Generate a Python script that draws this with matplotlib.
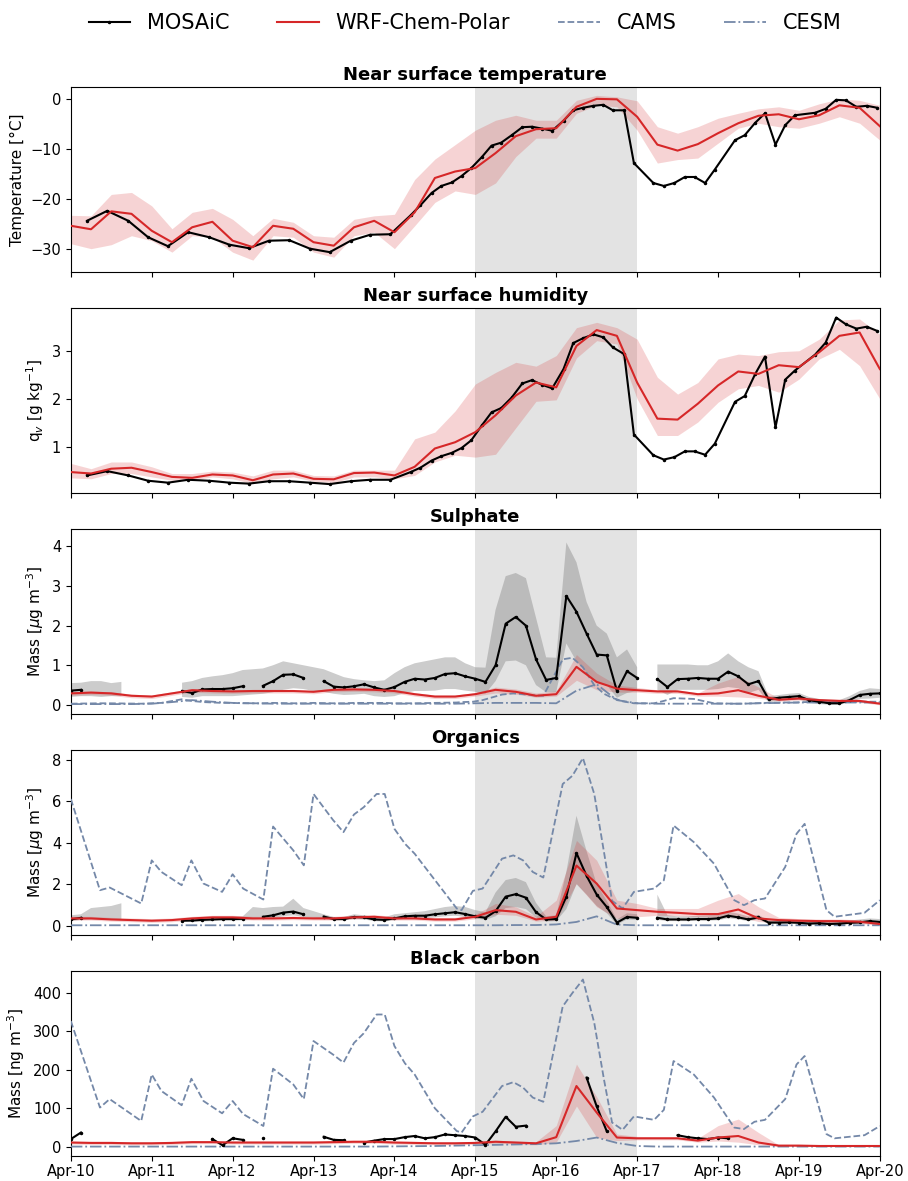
import numpy as np
import matplotlib
matplotlib.use('Agg')
import matplotlib.pyplot as plt

nan = np.nan

# days since Apr-10 00:00
day_labels = ['Apr-10', 'Apr-11', 'Apr-12', 'Apr-13', 'Apr-14', 'Apr-15',
              'Apr-16', 'Apr-17', 'Apr-18', 'Apr-19', 'Apr-20']

# ---- MOSAiC met observations
met_t = [0.20, 0.45, 0.71, 0.955, 1.20, 1.45, 1.71, 1.96, 2.20, 2.45,
         2.70, 2.955, 3.20, 3.46, 3.70, 3.95, 4.20, 4.32, 4.46, 4.58,
         4.71, 4.83, 4.95, 5.08, 5.20, 5.32, 5.45, 5.58, 5.70, 5.83,
         5.95, 6.09, 6.21, 6.33, 6.46, 6.58, 6.70, 6.84, 6.96, 7.20,
         7.33, 7.46, 7.59, 7.71, 7.84, 7.96, 8.21, 8.33, 8.46, 8.58,
         8.71, 8.83, 8.95, 9.20, 9.33, 9.46, 9.58, 9.71, 9.84, 9.97]
temp_obs = [-24.4, -22.4, -24.4, -27.7, -29.5, -26.7, -27.7, -29.2, -29.9, -28.4,
            -28.3, -30.0, -30.7, -28.4, -27.2, -27.1, -23.3, -21.3, -18.8, -17.4,
            -16.7, -15.4, -13.8, -11.6, -9.3, -8.7, -7.2, -5.6, -5.5, -5.9,
            -6.3, -4.3, -2.2, -1.7, -1.3, -1.1, -2.2, -2.2, -12.8, -16.8,
            -17.4, -16.8, -15.6, -15.6, -16.8, -14.1, -8.2, -7.2, -4.7, -2.8,
            -9.1, -5.2, -3.2, -2.7, -1.9, -0.1, -0.2, -1.5, -1.3, -1.7]
qv_obs = [0.41, 0.50, 0.41, 0.30, 0.26, 0.32, 0.30, 0.26, 0.24, 0.29,
          0.29, 0.26, 0.23, 0.29, 0.32, 0.32, 0.48, 0.57, 0.72, 0.81,
          0.88, 0.98, 1.14, 1.45, 1.72, 1.81, 2.03, 2.32, 2.39, 2.29,
          2.22, 2.62, 3.16, 3.26, 3.34, 3.28, 3.07, 2.93, 1.26, 0.83,
          0.74, 0.79, 0.91, 0.91, 0.84, 1.07, 1.94, 2.06, 2.52, 2.88,
          1.41, 2.40, 2.59, 2.92, 3.17, 3.69, 3.55, 3.46, 3.50, 3.41]

# ---- WRF-Chem-Polar (6-hourly), mean and range
wrf_t = np.linspace(0, 10, 41)
temp_wrf = [-25.4, -26.1, -22.5, -23.0, -26.4, -28.7, -25.7, -24.6, -28.4, -29.7,
            -25.4, -26.0, -28.7, -29.4, -25.7, -24.4, -26.7, -22.7, -15.8, -14.5,
            -13.8, -10.8, -7.4, -6.0, -5.8, -1.5, 0.1, 0.0, -3.5, -9.1,
            -10.3, -9.0, -6.8, -4.8, -3.3, -3.0, -4.0, -3.2, -1.2, -1.7, -5.4]
temp_hi = [-23.3, -23.4, -19.1, -18.7, -21.4, -26.0, -22.7, -21.9, -24.1, -27.4,
           -23.9, -24.7, -27.4, -27.7, -24.1, -23.4, -23.1, -16.1, -12.0, -9.1,
           -6.2, -4.2, -3.2, -4.2, -4.2, -0.2, 0.8, 0.5, -0.3, -5.5,
           -6.8, -5.5, -3.8, -2.8, -1.9, -1.5, -2.2, -0.9, 0.1, -0.2, -1.2]
temp_lo = [-29.0, -30.0, -29.2, -27.4, -28.4, -30.7, -27.4, -27.7, -30.7, -32.3,
           -27.4, -27.7, -30.7, -31.7, -27.4, -26.7, -30.0, -25.4, -20.7, -18.4,
           -19.1, -16.8, -11.5, -7.8, -7.8, -2.8, -1.2, -1.5, -6.2, -12.8,
           -12.1, -11.8, -8.8, -5.8, -4.8, -5.5, -5.8, -4.8, -3.5, -4.8, -8.2]

qv_wrf = [0.48, 0.45, 0.55, 0.57, 0.48, 0.38, 0.36, 0.43, 0.41, 0.31,
          0.43, 0.45, 0.34, 0.33, 0.46, 0.47, 0.41, 0.59, 0.97, 1.10,
          1.31, 1.66, 2.07, 2.34, 2.24, 3.10, 3.43, 3.31, 2.34, 1.59,
          1.57, 1.90, 2.28, 2.57, 2.52, 2.70, 2.66, 2.97, 3.31, 3.38, 2.62]
qv_hi = [0.66, 0.55, 0.69, 0.69, 0.59, 0.45, 0.45, 0.50, 0.48, 0.40,
         0.52, 0.52, 0.41, 0.40, 0.52, 0.52, 0.52, 1.17, 1.31, 1.75,
         2.31, 2.55, 2.76, 2.68, 2.90, 3.48, 3.59, 3.48, 3.24, 2.45,
         2.10, 2.34, 2.83, 2.93, 2.90, 2.98, 3.00, 3.24, 3.64, 3.66, 3.34]
qv_lo = [0.36, 0.34, 0.45, 0.45, 0.38, 0.31, 0.31, 0.38, 0.34, 0.24,
         0.34, 0.38, 0.29, 0.26, 0.38, 0.38, 0.34, 0.41, 0.69, 0.83,
         0.79, 0.85, 1.40, 1.95, 1.98, 2.85, 3.21, 3.14, 2.00, 1.24,
         1.24, 1.52, 1.93, 2.21, 2.28, 2.14, 2.41, 2.83, 3.03, 2.69, 2.00]

so4_wrf = [0.29, 0.31, 0.29, 0.23, 0.21, 0.29, 0.37, 0.35, 0.34, 0.35,
           0.35, 0.35, 0.33, 0.38, 0.39, 0.38, 0.35, 0.27, 0.21, 0.21,
           0.27, 0.38, 0.33, 0.23, 0.27, 0.96, 0.58, 0.41, 0.37, 0.34,
           0.34, 0.27, 0.29, 0.37, 0.23, 0.13, 0.16, 0.12, 0.10, 0.10, 0.03]
so4_hi = [0.33, 0.35, 0.33, 0.27, 0.25, 0.33, 0.41, 0.39, 0.38, 0.39,
          0.39, 0.39, 0.37, 0.42, 0.43, 0.42, 0.39, 0.31, 0.25, 0.25,
          0.31, 0.45, 0.40, 0.30, 0.35, 1.27, 0.80, 0.50, 0.44, 0.38,
          0.38, 0.30, 0.55, 0.72, 0.45, 0.17, 0.20, 0.16, 0.14, 0.14, 0.07]
so4_lo = [0.24, 0.26, 0.24, 0.18, 0.16, 0.24, 0.32, 0.30, 0.29, 0.30,
          0.30, 0.30, 0.28, 0.33, 0.34, 0.33, 0.30, 0.22, 0.16, 0.16,
          0.22, 0.30, 0.27, 0.19, 0.22, 0.62, 0.38, 0.32, 0.32, 0.29,
          0.29, 0.22, 0.22, 0.20, 0.17, 0.09, 0.12, 0.08, 0.06, 0.06, 0.00]

org_wrf = [0.35, 0.35, 0.30, 0.27, 0.24, 0.27, 0.35, 0.40, 0.40, 0.35,
           0.35, 0.37, 0.35, 0.35, 0.40, 0.43, 0.35, 0.35, 0.30, 0.30,
           0.43, 0.75, 0.67, 0.30, 0.43, 2.90, 2.03, 0.83, 0.75, 0.67,
           0.62, 0.56, 0.56, 0.78, 0.35, 0.27, 0.24, 0.22, 0.22, 0.19, 0.08]
org_hi = [0.45, 0.45, 0.40, 0.37, 0.34, 0.37, 0.45, 0.50, 0.50, 0.45,
          0.45, 0.47, 0.45, 0.45, 0.50, 0.53, 0.45, 0.45, 0.40, 0.40,
          0.55, 1.07, 0.91, 0.45, 1.23, 4.11, 3.15, 1.23, 1.07, 0.83,
          0.83, 0.83, 1.23, 1.55, 0.91, 0.40, 0.34, 0.32, 0.32, 0.29, 0.15]
org_lo = [0.27, 0.27, 0.22, 0.19, 0.16, 0.19, 0.27, 0.32, 0.32, 0.27,
          0.27, 0.29, 0.27, 0.27, 0.32, 0.35, 0.27, 0.27, 0.22, 0.22,
          0.33, 0.55, 0.50, 0.22, 0.27, 2.03, 0.91, 0.35, 0.43, 0.50,
          0.48, 0.44, 0.40, 0.45, 0.20, 0.15, 0.14, 0.13, 0.13, 0.10, 0.02]

bc_wrf = [11, 10, 10, 9, 9, 10, 12, 12, 11, 11,
          11, 11, 11, 12, 13, 13, 11, 10, 9, 9,
          10, 13, 11, 9, 25, 158, 89, 24, 22, 22,
          22, 16, 24, 28, 11, 3, 3, 2, 2, 2, 2]
bc_hi = [15, 14, 14, 13, 13, 14, 16, 16, 15, 15,
         15, 15, 15, 16, 17, 17, 15, 14, 13, 13,
         14, 17, 15, 13, 55, 215, 130, 33, 27, 26,
         26, 22, 55, 72, 37, 5, 4, 4, 4, 4, 4]
bc_lo = [7, 6, 6, 5, 5, 6, 8, 8, 7, 7,
         7, 7, 7, 8, 9, 9, 7, 6, 5, 5,
         6, 9, 7, 5, 12, 106, 24, 16, 18, 18,
         18, 12, 15, 12, 5, 1, 1, 1, 1, 1, 1]

# ---- CESM (same 6-hourly steps)
so4_cesm = [0.02, 0.02, 0.02, 0.02, 0.03, 0.07, 0.12, 0.08, 0.05, 0.04,
            0.03, 0.03, 0.03, 0.03, 0.03, 0.03, 0.03, 0.03, 0.03, 0.03,
            0.04, 0.05, 0.05, 0.05, 0.04, 0.36, 0.52, 0.12, 0.04, 0.03,
            0.03, 0.03, 0.03, 0.03, 0.04, 0.05, 0.06, 0.06, 0.06, 0.06, 0.06]
org_cesm = [0.02, 0.02, 0.02, 0.02, 0.02, 0.02, 0.02, 0.02, 0.02, 0.02,
            0.02, 0.02, 0.02, 0.02, 0.02, 0.02, 0.02, 0.02, 0.02, 0.02,
            0.02, 0.02, 0.03, 0.03, 0.06, 0.18, 0.45, 0.05, 0.02, 0.02,
            0.02, 0.02, 0.02, 0.02, 0.02, 0.02, 0.02, 0.02, 0.02, 0.02, 0.02]
bc_cesm = [0.5, 0.5, 0.5, 0.5, 0.5, 0.5, 0.5, 0.5, 0.5, 0.5,
           0.5, 0.5, 0.5, 0.5, 0.5, 0.5, 1, 1.5, 2, 3,
           4, 5, 6, 7, 9, 15, 24, 10, 2, 0.5,
           0.5, 0.5, 0.5, 0.5, 0.5, 0.5, 0.5, 0.5, 0.5, 0.5, 0.5]

# ---- CAMS
cams_t = [0, 0.36, 0.48, 0.87, 1.0, 1.12, 1.37, 1.49, 1.64, 1.87,
          2.0, 2.13, 2.38, 2.5, 2.75, 2.88, 3.0, 3.24, 3.37, 3.5,
          3.62, 3.78, 3.88, 4.0, 4.13, 4.25, 4.5, 4.77, 4.83, 4.97,
          5.09, 5.33, 5.47, 5.59, 5.71, 5.84, 6.08, 6.2, 6.33, 6.47,
          6.59, 6.69, 6.82, 6.96, 7.21, 7.33, 7.45, 7.7, 7.95, 8.2,
          8.32, 8.45, 8.58, 8.83, 8.97, 9.07, 9.34, 9.44, 9.81, 10.0]
so4_cams = [0.03, 0.04, 0.04, 0.03, 0.04, 0.05, 0.14, 0.10, 0.07, 0.05,
            0.05, 0.04, 0.04, 0.05, 0.04, 0.04, 0.05, 0.04, 0.04, 0.05,
            0.05, 0.05, 0.05, 0.04, 0.04, 0.04, 0.05, 0.06, 0.07, 0.08,
            0.12, 0.26, 0.29, 0.27, 0.24, 0.23, 1.15, 1.19, 0.95, 0.50,
            0.28, 0.18, 0.09, 0.04, 0.04, 0.10, 0.17, 0.15, 0.04, 0.03,
            0.03, 0.04, 0.05, 0.06, 0.06, 0.07, 0.07, 0.08, 0.08, 0.08]
org_cams = [6.11, 1.71, 1.84, 1.07, 3.15, 2.59, 1.95, 3.15, 2.03, 1.63,
            2.48, 1.79, 1.26, 4.78, 3.63, 2.91, 6.35, 5.10, 4.51, 5.36,
            5.71, 6.35, 6.35, 4.67, 3.95, 3.47, 2.20, 0.83, 0.75, 1.68,
            1.79, 3.23, 3.39, 3.15, 2.59, 2.32, 6.83, 7.23, 8.08, 6.35,
            3.55, 1.20, 0.83, 1.63, 1.79, 2.19, 4.83, 4.03, 2.99, 1.23,
            0.99, 1.23, 1.31, 2.83, 4.43, 4.91, 0.75, 0.43, 0.62, 1.23]
bc_cams = [327, 102, 124, 67, 188, 145, 108, 177, 119, 87,
           119, 85, 54, 203, 162, 124, 275, 240, 219, 270,
           295, 344, 344, 262, 217, 188, 100, 41, 37, 79,
           91, 158, 168, 154, 128, 117, 365, 400, 435, 322,
           175, 63, 44, 79, 70, 96, 223, 188, 128, 50,
           46, 65, 70, 124, 214, 236, 33, 22, 30, 54]

# ---- MOSAiC aerosol observations (3-hourly), with range
obs_t = np.linspace(0, 10, 81)
so4_obs = [0.36, 0.38, nan, nan, nan, nan, nan, nan, nan, nan,
           nan, 0.35, 0.30, 0.39, 0.40, 0.40, 0.42, 0.47, nan, 0.48,
           0.60, 0.76, 0.77, 0.68, nan, 0.60, 0.46, 0.44, 0.47, 0.52,
           0.44, 0.38, 0.45, 0.58, 0.66, 0.64, 0.68, 0.78, 0.80, 0.72,
           0.66, 0.58, 1.00, 2.05, 2.22, 2.00, 1.15, 0.63, 0.68, 2.75,
           2.35, 1.80, 1.27, 1.25, 0.35, 0.85, 0.68, nan, 0.65, 0.45,
           0.65, 0.66, 0.68, 0.66, 0.66, 0.84, 0.72, 0.52, 0.60, 0.14,
           0.18, 0.20, 0.22, 0.12, 0.08, 0.04, 0.04, 0.12, 0.25, 0.28, 0.29]
so4_obs_hi = [0.55, 0.56, 0.60, 0.60, 0.55, 0.58, nan, nan, nan, nan,
              nan, 0.56, 0.60, 0.68, 0.72, 0.75, 0.80, 0.88, 0.90, 0.92,
              1.00, 1.10, 1.05, 1.00, 0.95, 0.90, 0.80, 0.70, 0.65, 0.62,
              0.60, 0.62, 0.80, 0.95, 1.05, 1.10, 1.15, 1.20, 1.20, 1.05,
              0.95, 0.94, 2.40, 3.25, 3.33, 3.20, 2.20, 1.20, 1.19, 4.10,
              3.60, 2.60, 2.00, 1.80, 1.20, 1.40, 0.95, nan, 1.02, 1.02,
              1.02, 1.02, 1.00, 1.00, 1.10, 1.30, 1.10, 0.95, 0.85, 0.22,
              0.25, 0.28, 0.30, 0.20, 0.15, 0.12, 0.12, 0.22, 0.35, 0.42, 0.40]
so4_obs_lo = [0.20, 0.22, 0.22, 0.20, 0.22, 0.22, nan, nan, nan, nan,
              nan, 0.20, 0.18, 0.22, 0.22, 0.22, 0.22, 0.24, 0.26, 0.28,
              0.32, 0.38, 0.42, 0.40, 0.35, 0.33, 0.28, 0.25, 0.26, 0.28,
              0.22, 0.20, 0.22, 0.30, 0.35, 0.35, 0.36, 0.40, 0.40, 0.36,
              0.33, 0.28, 0.60, 1.10, 1.12, 1.00, 0.50, 0.32, 0.32, 1.55,
              1.10, 0.80, 0.55, 0.50, 0.18, 0.30, 0.35, nan, 0.38, 0.25,
              0.38, 0.38, 0.38, 0.38, 0.40, 0.45, 0.42, 0.30, 0.38, 0.06,
              0.10, 0.12, 0.14, 0.05, 0.02, 0.00, 0.00, 0.06, 0.15, 0.16, 0.18]

org_obs = [0.30, 0.38, nan, nan, nan, nan, nan, nan, nan, nan,
           nan, 0.24, 0.25, 0.28, 0.30, 0.32, 0.32, 0.33, nan, 0.43,
           0.50, 0.63, 0.68, 0.55, nan, 0.44, 0.32, 0.32, 0.42, 0.40,
           0.30, 0.28, 0.35, 0.45, 0.48, 0.48, 0.55, 0.60, 0.65, 0.56,
           0.45, 0.38, 0.70, 1.40, 1.52, 1.35, 0.65, 0.30, 0.32, 1.40,
           3.50, 2.40, 1.50, 0.90, 0.15, 0.42, 0.38, nan, 0.38, 0.30,
           0.30, 0.30, 0.32, 0.32, 0.35, 0.48, 0.40, 0.30, 0.40, 0.15,
           0.15, 0.16, 0.14, 0.10, 0.12, 0.08, 0.10, 0.14, 0.16, 0.22, 0.18]
org_obs_hi = [0.50, 0.55, 0.85, 0.90, 0.95, 1.08, nan, nan, nan, nan,
              nan, 0.33, 0.35, 0.38, 0.40, 0.40, 0.42, 0.45, 0.90, 0.85,
              0.90, 0.92, 1.30, 0.85, 0.70, 0.55, 0.42, 0.42, 0.55, 0.50,
              0.42, 0.40, 0.55, 0.60, 0.65, 0.70, 0.80, 0.90, 0.95, 0.90,
              0.75, 0.65, 1.60, 2.20, 2.30, 2.10, 1.10, 0.45, 0.50, 2.60,
              5.30, 3.60, 2.00, 1.20, 0.30, 0.60, 0.55, nan, 1.50, 0.50,
              0.45, 0.45, 0.48, 0.50, 0.55, 0.68, 0.58, 0.45, 0.52, 0.25,
              0.25, 0.28, 0.25, 0.20, 0.22, 0.18, 0.20, 0.25, 0.30, 0.35, 0.32]
org_obs_lo = [0.22, 0.28, 0.30, 0.30, 0.30, 0.30, nan, nan, nan, nan,
              nan, 0.18, 0.18, 0.20, 0.22, 0.24, 0.24, 0.25, 0.30, 0.33,
              0.38, 0.45, 0.50, 0.42, 0.38, 0.35, 0.25, 0.25, 0.32, 0.30,
              0.22, 0.20, 0.26, 0.33, 0.36, 0.36, 0.40, 0.45, 0.48, 0.42,
              0.34, 0.28, 0.45, 0.85, 0.90, 0.80, 0.40, 0.20, 0.22, 0.80,
              2.00, 1.50, 0.95, 0.60, 0.05, 0.30, 0.28, nan, 0.28, 0.22,
              0.22, 0.22, 0.24, 0.24, 0.26, 0.36, 0.30, 0.22, 0.30, 0.08,
              0.08, 0.09, 0.07, 0.04, 0.05, 0.02, 0.03, 0.07, 0.08, 0.12, 0.10]

bc_obs = [20, 37, nan, nan, nan, nan, nan, nan, nan, nan,
          nan, nan, nan, nan, 20, 4, 22, 18, nan, 24,
          nan, nan, nan, nan, nan, 26, 18, 17, nan, 11,
          16, 20, 20, 25, 28, 22, 25, 32, 30, 28,
          24, 5, 40, 78, 52, 55, nan, nan, nan, nan,
          nan, 180, 105, 40, nan, nan, nan, nan, nan, nan,
          30, 25, 22, 20, 24, 22, nan, nan, nan, nan,
          nan, nan, nan, nan, nan, nan, nan, nan, nan, nan, nan]

# ---- plotting
red = '#d62728'
slate = '#7488a8'

fig, axs = plt.subplots(5, 1, figsize=(9.08, 11.81), dpi=100, sharex=True)
fig.subplots_adjust(left=0.078, right=0.969, top=0.926, bottom=0.0215, hspace=0.2)

panels = [
    ('Near surface temperature', 'Temperature [°C]', (-34.6, 2.4), [-30, -20, -10, 0]),
    ('Near surface humidity', r'q$_v$ [g kg$^{-1}$]', (0.054, 3.88), [1, 2, 3]),
    ('Sulphate', r'Mass [$\mu$g m$^{-3}$]', (-0.22, 4.43), [0, 1, 2, 3, 4]),
    ('Organics', r'Mass [$\mu$g m$^{-3}$]', (-0.43, 8.45), [0, 2, 4, 6, 8]),
    ('Black carbon', r'Mass [ng m$^{-3}$]', (-23, 456), [0, 100, 200, 300, 400]),
]

wrf_sets = [(temp_wrf, temp_lo, temp_hi), (qv_wrf, qv_lo, qv_hi),
            (so4_wrf, so4_lo, so4_hi), (org_wrf, org_lo, org_hi),
            (bc_wrf, bc_lo, bc_hi)]

for i, ax in enumerate(axs):
    title, ylab, ylim, yt = panels[i]
    ax.axvspan(5, 7, color='#e3e3e3', zorder=0, lw=0)
    mean, lo, hi = wrf_sets[i]
    ax.fill_between(wrf_t, lo, hi, color=red, alpha=0.2, lw=0, zorder=2)
    ax.set_title(title, fontsize=13, fontweight='bold', pad=5)
    ax.set_ylabel(ylab, fontsize=11)
    ax.set_ylim(*ylim)
    ax.set_yticks(yt)
    ax.tick_params(labelsize=10.5)

# met panels
axs[0].plot(met_t, temp_obs, color='k', lw=1.5, marker='.', ms=3, zorder=4)
axs[1].plot(met_t, qv_obs, color='k', lw=1.5, marker='.', ms=3, zorder=4)

# aerosol panels
aer = [(so4_obs, so4_obs_lo, so4_obs_hi, so4_cams, so4_cesm),
       (org_obs, org_obs_lo, org_obs_hi, org_cams, org_cesm)]
for ax, (ob, lo, hi, cams, cesm) in zip(axs[2:4], aer):
    ax.fill_between(obs_t, lo, hi, color='gray', alpha=0.4, lw=0, zorder=1)
    ax.plot(obs_t, ob, color='k', lw=1.5, marker='.', ms=3, zorder=4)
    ax.plot(cams_t, cams, color=slate, lw=1.3, ls='--', zorder=3)
    ax.plot(wrf_t, cesm, color=slate, lw=1.3, ls='-.', zorder=3)

axs[4].plot(obs_t, bc_obs, color='k', lw=1.5, marker='.', ms=3, zorder=4)
axs[4].plot(cams_t, bc_cams, color=slate, lw=1.3, ls='--', zorder=3)
axs[4].plot(wrf_t, bc_cesm, color=slate, lw=1.3, ls='-.', zorder=3)

lines = []
for i, ax in enumerate(axs):
    mean = wrf_sets[i][0]
    l, = ax.plot(wrf_t, mean, color=red, lw=1.5, zorder=5)
    lines.append(l)

axs[4].set_xlim(0, 10)
axs[4].set_xticks(range(11))
axs[4].set_xticklabels(day_labels)
axs[4].tick_params(axis='x', pad=2.5)

h_obs, = axs[0].plot([], [], color='k', lw=1.5, marker='.', ms=3)
h_cams, = axs[0].plot([], [], color=slate, lw=1.3, ls='--')
h_cesm, = axs[0].plot([], [], color=slate, lw=1.3, ls='-.')
fig.legend([h_obs, lines[0], h_cams, h_cesm],
           ['MOSAiC', 'WRF-Chem-Polar', 'CAMS', 'CESM'],
           loc='upper center', bbox_to_anchor=(0.512, 1.005), ncol=4,
           frameon=False, fontsize=15, columnspacing=2.3)

fig.savefig('out.png', dpi=100)
